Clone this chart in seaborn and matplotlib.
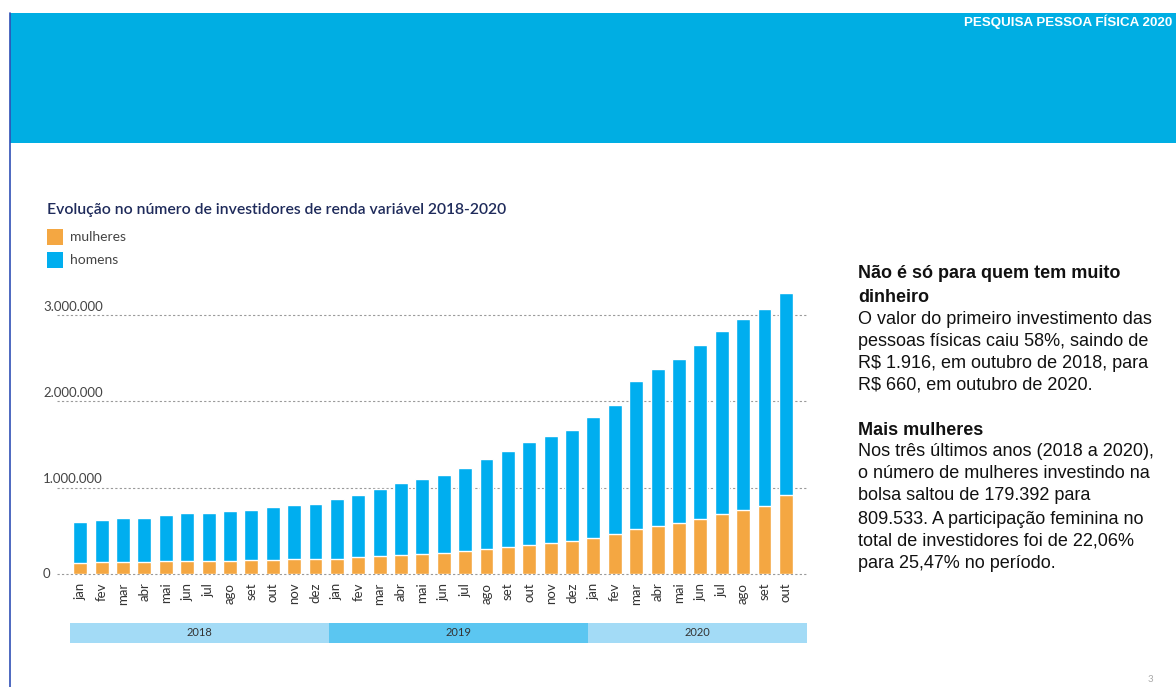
import numpy as np
import pandas as pd
import seaborn as sns
import matplotlib.pyplot as plt
from matplotlib.patches import Rectangle
from matplotlib.lines import Line2D

# Dados
meses = ["jan", "fev", "mar", "abr", "mai", "jun", "jul", "ago", "set", "out", "nov", "dez",
         "jan", "fev", "mar", "abr", "mai", "jun", "jul", "ago", "set", "out", "nov", "dez",
         "jan", "fev", "mar", "abr", "mai", "jun", "jul", "ago", "set", "out"]
anos = ["2018", "2019", "2020"]
total = [608, 628, 651, 655, 682, 705, 705, 735, 747, 774, 797, 816,
         867, 917, 990, 1052, 1102, 1148, 1225, 1337, 1422, 1526, 1595, 1672,
         1822, 1954, 2238, 2377, 2489, 2647, 2816, 2955, 3064, 3249]
mulheres = [127, 139, 146, 146, 150, 154, 154, 154, 165, 165, 173, 177,
            180, 196, 208, 223, 238, 246, 265, 296, 316, 339, 358, 385,
            424, 462, 527, 558, 593, 643, 694, 747, 786, 917]
y_ticks = [0, 1000000, 2000000, 3000000]
y_labels = ["0", "1.000.000", "2.000.000", "3.000.000"]

df = pd.DataFrame({
    "pos": np.arange(len(meses)),
    "total": np.array(total) * 1000,
    "mulheres": np.array(mulheres) * 1000,
})

AZUL = "#00AEEF"
LARANJA = "#F4A742"
W, H = 1176, 687

sns.set_style("white")
plt.rcParams['font.family'] = ['Lato', 'DejaVu Sans']

fig = plt.figure(figsize=(W / 100, H / 100), dpi=100)

def px(x, y):
    return x / W, 1 - y / H

# faixa azul do topo
fig.patches.append(Rectangle(px(10, 143), (W - 10) / W, 130 / H, transform=fig.transFigure,
                             facecolor="#00AEE3", edgecolor="none", zorder=0))
fig.lines.append(Line2D([10 / W, 10 / W], [0, 1 - 13 / H], transform=fig.transFigure,
                        color="#2F4FB5", lw=1.2))
fig.text(1172 / W, 1 - 22 / H, "PESQUISA PESSOA FÍSICA 2020", color="white", fontsize=9.6,
         fontweight="bold", family=["Liberation Sans"], ha="right", va="center")

# eixo principal
y0, y_top = 574.3, 288.9
ax = fig.add_axes([57 / W, 1 - y0 / H, 750 / W, (y0 - y_top) / H])
sns.barplot(data=df, x="pos", y="total", color=AZUL, saturation=1, width=0.65, ax=ax, zorder=3)
sns.barplot(data=df, x="pos", y="mulheres", color=LARANJA, saturation=1, width=0.65, ax=ax, zorder=4)
ax.set_xlim(-1.09, 33.99)
ax.set_ylim(0, 3.3e6)
for v in y_ticks:
    ax.axhline(v, color="#9a9a9a", lw=0.8, ls=(0, (2, 2)), zorder=1, clip_on=False)
sns.despine(ax=ax, left=True, bottom=True)
ax.set_yticks([])
ax.set_xticks(df["pos"])
ax.set_xticklabels(meses, rotation=90, fontsize=9.5, color="#333333")
ax.tick_params(axis="x", length=0, pad=6)
ax.set_xlabel("")
ax.set_ylabel("")
ax.patch.set_alpha(0)

for v, lab in zip(y_ticks, y_labels):
    if v == 0:
        ax.annotate(lab, xy=(-14 / 750, v), xycoords=("axes fraction", "data"),
                    ha="left", va="center", fontsize=9.5, color="#444444")
    else:
        ax.annotate(lab, xy=(-14 / 750, v), xycoords=("axes fraction", "data"),
                    xytext=(0, 6), textcoords="offset points",
                    ha="left", va="center", fontsize=9.5, color="#444444")

# faixas dos anos
for ano, x1, x2, cor in zip(anos, [70, 329, 588], [329, 588, 807],
                            ["#A3DBF6", "#5BC6F1", "#A3DBF6"]):
    fig.patches.append(Rectangle(px(x1, 643), (x2 - x1) / W, 20 / H, transform=fig.transFigure,
                                 facecolor=cor, edgecolor="none"))
    fig.text((x1 + x2) / 2 / W, 1 - 633 / H, ano, fontsize=8, color="#333333",
             ha="center", va="center")

# titulo e legenda
fig.text(47 / W, 1 - 210 / H, "Evolução no número de investidores de renda variável 2018-2020",
         fontsize=11.3, fontweight="semibold", color="#1F2B5B", va="center")
for yy, cor, lab in [(237, LARANJA, "mulheres"), (260, AZUL, "homens")]:
    fig.patches.append(Rectangle(px(47, yy + 8), 16 / W, 16 / H, transform=fig.transFigure,
                                 facecolor=cor, edgecolor="none"))
    fig.text(70 / W, 1 - yy / H, lab, fontsize=10, color="#444444", va="center")

# texto lateral
linhas = [
    (274, "Não é só para quem tem muito", True),
    (297, "dinheiro", True),
    (319, "O valor do primeiro investimento das", False),
    (341, "pessoas físicas caiu 58%, saindo de", False),
    (363, "R$ 1.916, em outubro de 2018, para", False),
    (385, "R$ 660, em outubro de 2020.", False),
    (430, "Mais mulheres", True),
    (452, "Nos três últimos anos (2018 a 2020),", False),
    (474, "o número de mulheres investindo na", False),
    (496, "bolsa saltou de 179.392 para", False),
    (519, "809.533. A participação feminina no", False),
    (541, "total de investidores foi de 22,06%", False),
    (563, "para 25,47% no período.", False),
]
for yy, txt, negrito in linhas:
    fig.text(858 / W, 1 - yy / H, txt, fontsize=13, color="#111111", va="center",
             family=["Liberation Sans"], fontweight="bold" if negrito else "normal")

fig.text(1150 / W, 1 - 679 / H, "3", fontsize=7, color="#aaaaaa", ha="center", va="center")

fig.savefig("out.png", dpi=100)
